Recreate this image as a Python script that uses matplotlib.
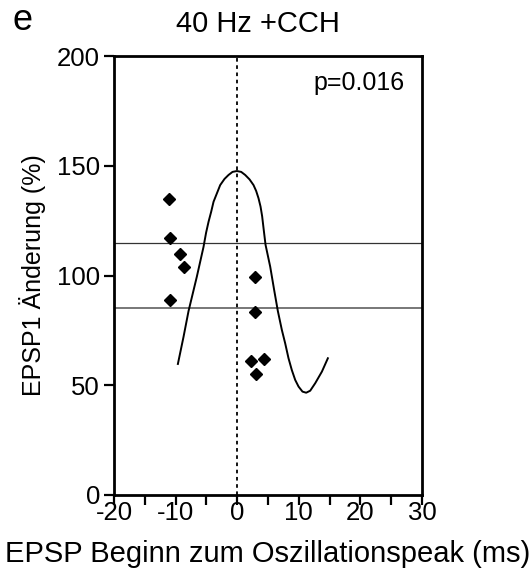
import numpy as np
import matplotlib.pyplot as plt

plt.rcParams['font.family'] = ['Liberation Sans', 'DejaVu Sans']
plt.rcParams['axes.unicode_minus'] = False

# EPSP onset relative to oscillation peak (ms) and EPSP1 change (%)
onset_ms = [-11.0, -10.9, -9.25, -8.6, -10.9, 2.9, 2.9, 2.3, 4.4, 3.0]
epsp_change = [135, 117, 110, 104, 89, 99.5, 83.5, 61, 62, 55]

# fitted curve
curve_x = [-9.63, -8.71, -7.90, -6.55, -5.47, -5.05, -4.65, -4.22, -3.84,
           -3.30, -2.76, -2.06, -1.41, -0.76, -0.05, 0.65, 1.30, 2.00, 2.65,
           3.08, 3.46, 3.79, 4.05, 4.30, 4.60, 5.36, 6.00, 6.60, 7.25, 7.79,
           8.33, 8.87, 9.42, 9.96, 10.6, 11.2, 11.85, 12.66, 13.75, 14.72]
curve_y = [59.7, 72.1, 83.8, 99.5, 113.0, 119.5, 124.5, 129.1, 133.6,
           137.4, 141.2, 144.0, 145.8, 147.2, 147.6, 147.2, 145.8, 143.8,
           141.2, 138.5, 135.2, 131.4, 127.0, 121.0, 114.0, 104.0, 93.4,
           83.8, 75.2, 69.1, 62.3, 56.9, 52.4, 49.4, 47.1, 46.6, 47.5, 50.9,
           56.2, 62.3]

upper_band = 115
lower_band = 85

xticks = [-20, -10, 0, 10, 20, 30]
yticks = [0, 50, 100, 150, 200]

fig = plt.figure(figsize=(5.31, 5.78), dpi=100)
ax = fig.add_axes([0.2147, 0.1436, 0.58, 0.7595])

ax.axhline(upper_band, color='#333333', lw=0.9, zorder=1)
ax.axhline(lower_band, color='#777777', lw=1.4, zorder=1)
ax.axvline(0, color='black', lw=1.3, ls=(0, (2, 2)), zorder=1)
ax.plot(curve_x, curve_y, color='black', lw=1.4, zorder=2)
ax.plot(onset_ms, epsp_change, 'D', color='black', ms=6.5, zorder=3)

ax.set_xlim(-20, 30)
ax.set_ylim(0, 200)
ax.set_xticks(xticks)
ax.set_xticks([-15, -5, 5, 15, 25], minor=True)
ax.set_yticks(yticks)
for s in ax.spines.values():
    s.set_linewidth(2.0)
ax.tick_params(axis='both', which='both', direction='out', length=7,
               width=1.6, labelsize=18.5)
ax.tick_params(axis='x', pad=-3)
ax.tick_params(axis='y', pad=3)

ax.text(0.945, 0.9226, 'p=0.016', transform=ax.transAxes, ha='right',
        va='baseline', fontsize=18)
ax.set_ylabel('EPSP1 Änderung (%)', fontsize=18, labelpad=8)
ax.set_xlabel('EPSP Beginn zum Oszillationspeak (ms)', fontsize=21,
              labelpad=11)

fig.text(258 / 531, 1 - 24 / 578, '40 Hz +CCH', ha='center', va='center',
         fontsize=21)
fig.text(12 / 531, 1 - 20 / 578, 'e', ha='left', va='center', fontsize=26)

fig.savefig('out.png', dpi=100)
